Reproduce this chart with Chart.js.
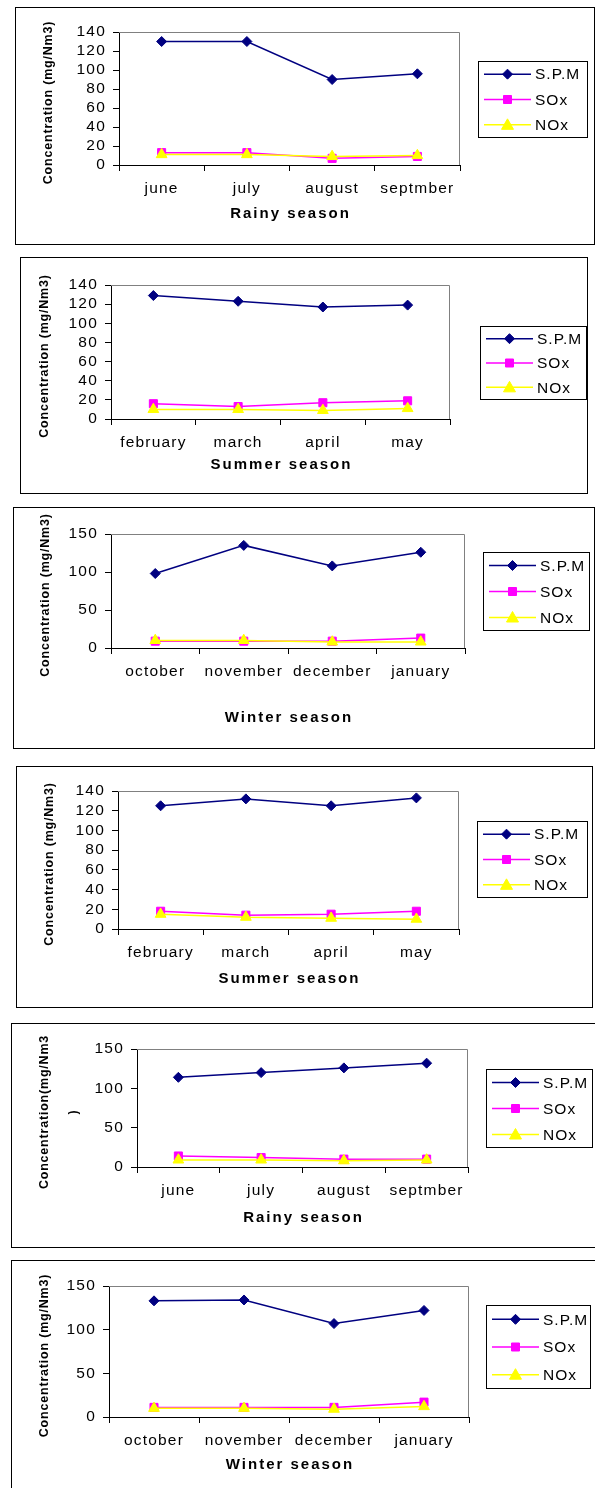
<!DOCTYPE html>
<html>
<head>
<meta charset="utf-8">
<script src="https://cdn.jsdelivr.net/npm/chart.js@4.4.0/dist/chart.umd.min.js"></script>
<style>
  html, body { margin: 0; padding: 0; background: #fff; }
  body { position: relative; width: 595px; height: 1488px; overflow: hidden; }
  .panel { position: absolute; box-sizing: border-box; border: 1px solid #000; }
  .panel canvas { position: absolute; left: -1px; top: -1px; }
</style>
</head>
<body>
<script>
// month categories for each season
const rainyMonths = ["june", "july", "august", "septmber"];
const summerMonths = ["february", "march", "april", "may"];
const winterMonths = ["october", "november", "december", "january"];

const seriesNames = ["S.P.M", "SOx", "NOx"];

// values (mg/Nm3)
const rainyASpm = [130, 130, 90, 96];
const rainyASox = [13, 13, 7, 9];
const rainyANox = [11, 11, 9, 10];

const summerASpm = [129, 123, 117, 119];
const summerASox = [16, 13, 17, 19];
const summerANox = [10, 10, 9, 11];

const winterASpm = [98, 135, 108, 126];
const winterASox = [9, 9, 9, 13];
const winterANox = [10, 10, 8, 8];

const summerBSpm = [125, 132, 125, 133];
const summerBSox = [18, 14, 15, 18];
const summerBNox = [15, 12, 11, 10];

const rainyBSpm = [114, 120, 126, 132];
const rainyBSox = [14, 12, 10, 10];
const rainyBNox = [9, 9, 8, 9];

const winterBSpm = [133, 134, 107, 122];
const winterBSox = [11, 11, 11, 17];
const winterBNox = [10, 10, 9, 12];

const yTitle = "Concentration (mg/Nm3)";
const yTitleWrapped = ["Concentration(mg/Nm3", ")"];

const FONT = '"Liberation Sans", Arial, sans-serif';
const seriesColors = ["#000080", "#ff00ff", "#ffff00"];
const seriesMarkers = ["rectRot", "rect", "triangle"];

const charts = [
    { labels: rainyMonths, data: [rainyASpm, rainyASox, rainyANox], max: 140, step: 20,
      xTitle: "Rainy season", yTitle: [yTitle],
      box: { x: 15, y: 7, w: 580, h: 238 }, plot: { l: 119, t: 32, r: 460, b: 165 },
      legend: { x: 478, y: 61, w: 109, h: 76 }, titleY: 214, yTitleX: 49 },
    { labels: summerMonths, data: [summerASpm, summerASox, summerANox], max: 140, step: 20,
      xTitle: "Summer season", yTitle: [yTitle],
      box: { x: 20, y: 257, w: 568, h: 237 }, plot: { l: 111, t: 285, r: 450, b: 419 },
      legend: { x: 480, y: 326, w: 106, h: 73 }, titleY: 465, yTitleX: 45 },
    { labels: winterMonths, data: [winterASpm, winterASox, winterANox], max: 150, step: 50,
      xTitle: "Winter season", yTitle: [yTitle],
      box: { x: 13, y: 507, w: 582, h: 242 }, plot: { l: 111, t: 534, r: 465, b: 648 },
      legend: { x: 483, y: 552, w: 106, h: 78 }, titleY: 718, yTitleX: 46 },
    { labels: summerMonths, data: [summerBSpm, summerBSox, summerBNox], max: 140, step: 20,
      xTitle: "Summer season", yTitle: [yTitle],
      box: { x: 16, y: 766, w: 577, h: 242 }, plot: { l: 118, t: 791, r: 459, b: 929 },
      legend: { x: 477, y: 821, w: 110, h: 76 }, titleY: 979, yTitleX: 50 },
    { labels: rainyMonths, data: [rainyBSpm, rainyBSox, rainyBNox], max: 150, step: 50,
      xTitle: "Rainy season", yTitle: yTitleWrapped,
      box: { x: 11, y: 1023, w: 590, h: 225 }, plot: { l: 137, t: 1049, r: 468, b: 1167 },
      legend: { x: 486, y: 1069, w: 106, h: 78 }, titleY: 1218, yTitleX: 45 },
    { labels: winterMonths, data: [winterBSpm, winterBSox, winterBNox], max: 150, step: 50,
      xTitle: "Winter season", yTitle: [yTitle],
      box: { x: 11, y: 1260, w: 590, h: 235 }, plot: { l: 109, t: 1286, r: 469, b: 1417 },
      legend: { x: 486, y: 1305, w: 104, h: 83 }, titleY: 1465, yTitleX: 45 },
];

function drawMarker(ctx, style, x, y, color) {
    ctx.fillStyle = color;
    ctx.strokeStyle = color;
    ctx.lineWidth = 1;
    ctx.beginPath();
    if (style === "rectRot") {
        ctx.moveTo(x, y - 5); ctx.lineTo(x + 5, y); ctx.lineTo(x, y + 5); ctx.lineTo(x - 5, y);
    } else if (style === "rect") {
        ctx.rect(x - 4, y - 4, 8, 8);
    } else {
        ctx.moveTo(x, y - 6); ctx.lineTo(x + 6, y + 4.5); ctx.lineTo(x - 6, y + 4.5);
    }
    ctx.closePath();
    ctx.fill();
    ctx.stroke();
}

// excel-ish frame, axis titles and boxed legend
const excelFrame = {
    id: "excelFrame",
    beforeLayout(chart) { chart.ctx.letterSpacing = "1.2px"; },
    beforeDraw(chart) { chart.ctx.letterSpacing = "1.2px"; },
    beforeDatasetsDraw(chart) {
        const { ctx, chartArea: a } = chart;
        ctx.save();
        ctx.strokeStyle = "#808080";
        ctx.lineWidth = 1;
        ctx.beginPath();
        ctx.moveTo(a.left, a.top + 0.5);
        ctx.lineTo(a.right - 0.5, a.top + 0.5);
        ctx.lineTo(a.right - 0.5, a.bottom);
        ctx.stroke();
        ctx.restore();
    },
    afterDraw(chart, args, opts) {
        const cfg = opts.cfg;
        const { ctx, chartArea: a } = chart;
        const bx = cfg.box.x, by = cfg.box.y;
        ctx.save();
        ctx.fillStyle = "#000";
        ctx.textBaseline = "middle";

        // x axis title
        ctx.letterSpacing = "2px";
        ctx.font = "bold 15px " + FONT;
        ctx.textAlign = "center";
        ctx.fillText(cfg.xTitle, (a.left + a.right) / 2 + 1, cfg.titleY - by);

        // y axis title, rotated
        ctx.letterSpacing = "0.8px";
        ctx.font = "bold 12.5px " + FONT;
        ctx.save();
        ctx.translate(cfg.yTitleX - bx, (a.top + a.bottom) / 2 + 4);
        ctx.rotate(-Math.PI / 2);
        cfg.yTitle.forEach((line, i) => ctx.fillText(line, 0, i * 29));
        ctx.restore();

        // legend
        const lg = cfg.legend;
        const lx = lg.x - bx, ly = lg.y - by;
        ctx.strokeStyle = "#000";
        ctx.lineWidth = 1;
        ctx.strokeRect(lx + 0.5, ly + 0.5, lg.w, lg.h);
        ctx.letterSpacing = "1px";
        ctx.font = "15.5px " + FONT;
        ctx.textAlign = "left";
        seriesNames.forEach((name, i) => {
            const rowY = ly + lg.h * (2 * i + 1) / 6 + 0.5;
            ctx.strokeStyle = seriesColors[i];
            ctx.lineWidth = 1.5;
            ctx.beginPath();
            ctx.moveTo(lx + 6, rowY);
            ctx.lineTo(lx + 53, rowY);
            ctx.stroke();
            drawMarker(ctx, seriesMarkers[i], lx + 29.5, rowY, seriesColors[i]);
            ctx.fillStyle = "#000";
            ctx.fillText(name, lx + 57, rowY + 1);
        });
        ctx.restore();
    },
};

charts.forEach((cfg) => {
    const div = document.createElement("div");
    div.className = "panel";
    div.style.left = cfg.box.x + "px";
    div.style.top = cfg.box.y + "px";
    div.style.width = cfg.box.w + "px";
    div.style.height = cfg.box.h + "px";
    const canvas = document.createElement("canvas");
    canvas.width = cfg.box.w;
    canvas.height = cfg.box.h;
    div.appendChild(canvas);
    document.body.appendChild(div);

    const tickFont = { family: FONT, size: 15.5 };

    new Chart(canvas, {
        type: "line",
        data: {
            labels: cfg.labels,
            datasets: seriesNames.map((name, i) => ({
                label: name,
                data: cfg.data[i],
                borderColor: seriesColors[i],
                backgroundColor: seriesColors[i],
                pointBackgroundColor: seriesColors[i],
                pointBorderColor: seriesColors[i],
                pointStyle: seriesMarkers[i],
                pointRadius: [5, 5.7, 6.2][i],
                pointBorderWidth: 1,
                borderWidth: 1.5,
                tension: 0,
                order: 2 - i,
            })),
        },
        options: {
            responsive: false,
            animation: false,
            events: [],
            layout: {
                padding: {
                    left: 0,
                    top: cfg.plot.t - cfg.box.y,
                    right: cfg.box.x + cfg.box.w - cfg.plot.r,
                    bottom: 0,
                },
            },
            plugins: {
                legend: { display: false },
                tooltip: { enabled: false },
                excelFrame: { cfg: cfg },
            },
            scales: {
                x: {
                    offset: true,
                    grid: { offset: true, drawOnChartArea: false, tickLength: 6, color: "#000" },
                    border: { color: "#000", width: 1 },
                    ticks: { color: "#000", font: tickFont, padding: 8, maxRotation: 0, autoSkip: false },
                    afterFit: (s) => { s.height = cfg.box.y + cfg.box.h - cfg.plot.b; },
                },
                y: {
                    min: 0,
                    max: cfg.max,
                    grid: { drawOnChartArea: false, tickLength: 6, color: "#000" },
                    border: { color: "#000", width: 1 },
                    ticks: { color: "#000", font: tickFont, stepSize: cfg.step, padding: 7, autoSkip: false },
                    afterFit: (s) => { s.width = cfg.plot.l - cfg.box.x; },
                },
            },
        },
        plugins: [excelFrame],
    });
});
</script>
</body>
</html>
